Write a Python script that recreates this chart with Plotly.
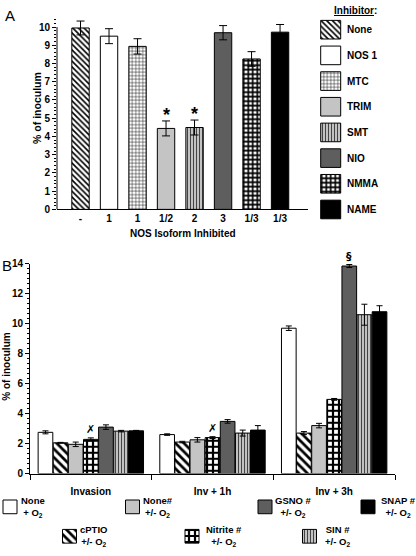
import plotly.graph_objects as go

# ---------------- Panel A data ----------------
A_inhibitors = ["None", "NOS 1", "MTC", "TRIM", "SMT", "NIO", "NMMA", "NAME"]
A_isoform = ["-", "1", "1", "1/2", "2", "3", "1/3", "1/3"]
A_values = [9.95, 9.5, 8.94, 4.44, 4.49, 9.69, 8.25, 9.72]
A_errors = [0.38, 0.41, 0.42, 0.41, 0.41, 0.39, 0.40, 0.42]
A_sig = ["", "", "", "*", "*", "", "", ""]

# ---------------- Panel B data ----------------
B_groups = ["Invasion", "Inv + 1h", "Inv + 3h"]
B_series = ["None + O2", "cPTIO +/- O2", "None# +/- O2", "Nitrite # +/- O2",
            "GSNO # +/- O2", "SIN # +/- O2", "SNAP # +/- O2"]
B_none_o2 = [2.75, 2.6, 9.7]
B_cptio = [2.05, 2.1, 2.7]
B_none_h = [1.95, 2.25, 3.2]
B_nitrite = [2.28, 2.4, 4.95]
B_gsno = [3.1, 3.48, 13.85]
B_sin = [2.83, 2.7, 10.6]
B_snap = [2.85, 2.9, 10.8]
B_none_o2_err = [0.1, 0.05, 0.15]
B_cptio_err = [0.03, 0.05, 0.1]
B_none_h_err = [0.15, 0.15, 0.15]
B_nitrite_err = [0.1, 0.06, 0.06]
B_gsno_err = [0.15, 0.12, 0.1]
B_sin_err = [0.05, 0.2, 0.7]
B_snap_err = [0.03, 0.3, 0.4]
B_marks_nitrite = ["\u2717", "\u2717", ""]
B_marks_gsno = ["", "", "\u00a7"]

B_values = [B_none_o2, B_cptio, B_none_h, B_nitrite, B_gsno, B_sin, B_snap]
B_errors = [B_none_o2_err, B_cptio_err, B_none_h_err, B_nitrite_err, B_gsno_err, B_sin_err, B_snap_err]
B_marks = [None, None, None, B_marks_nitrite, B_marks_gsno, None, None]
B_legend_text = ["None<br>+ O<sub>2</sub>", "cPTIO<br>+/- O<sub>2</sub>", "None#<br>+/- O<sub>2</sub>",
                 "Nitrite #<br>+/- O<sub>2</sub>", "GSNO #<br>+/- O<sub>2</sub>",
                 "SIN #<br>+/- O<sub>2</sub>", "SNAP #<br>+/- O<sub>2</sub>"]

# ---------------- styles ----------------
FONT = "Liberation Sans, Arial, sans-serif"
STY = {
    "hatchA":  dict(color="white", shape="\\", fg="black", bg="white", size=4, sol=0.4),
    "hatchB":  dict(color="white", shape="\\", fg="black", bg="white", size=6, sol=0.45),
    "white":   dict(color="white", shape="", fg="black", bg="white", size=4, sol=0.3),
    "grid":    dict(color="white", shape="+", fg="black", bg="white", size=3.5, sol=0.25),
    "light":   dict(color="#c4c4c4", shape="", fg="black", bg="#c4c4c4", size=4, sol=0.3),
    "vstripe": dict(color="#d0d0d0", shape="|", fg="#444444", bg="#dddddd", size=3, sol=0.45),
    "dark":    dict(color="#5e5e5e", shape="", fg="black", bg="#5e5e5e", size=4, sol=0.3),
    "checkA":  dict(color="white", shape="+", fg="black", bg="white", size=4.5, sol=0.6),
    "checkB":  dict(color="white", shape="+", fg="black", bg="white", size=6, sol=0.6),
    "black":   dict(color="black", shape="", fg="black", bg="black", size=4, sol=0.3),
}
A_style = ["hatchA", "white", "grid", "light", "vstripe", "dark", "checkA", "black"]
B_style = ["white", "hatchB", "light", "checkB", "dark", "vstripe", "black"]


def marker_one(key):
    d = STY[key]
    m = dict(color=d["color"], line=dict(color="black", width=1))
    if d["shape"]:
        m["pattern"] = dict(shape=d["shape"], fgcolor=d["fg"], bgcolor=d["bg"],
                            size=d["size"], solidity=d["sol"], fillmode="replace")
    return m


W, H = 416, 556
fig = go.Figure()

# ---------------- Panel A ----------------
A_x = list(range(len(A_values)))
for i, nm in enumerate(A_inhibitors):
    fig.add_trace(go.Bar(
        x=[A_x[i]], y=[A_values[i]], name=nm, width=0.61, xaxis="x", yaxis="y",
        offsetgroup="a", showlegend=False, marker=marker_one(A_style[i]),
        error_y=dict(type="data", array=[A_errors[i]], visible=True, color="black",
                     thickness=1, width=4),
    ))

# ---------------- Panel B ----------------
for k, name in enumerate(B_series):
    fig.add_trace(go.Bar(
        x=B_groups, y=B_values[k], name=name, xaxis="x2", yaxis="y2", showlegend=False,
        marker=marker_one(B_style[k]),
        error_y=dict(type="data", array=B_errors[k], visible=True, color="black",
                     thickness=1, width=3),
    ))

# ---------------- legend swatches (pixel-coordinate overlay axes) ----------------
legA_x = 330.7
legA_top0, legA_step, legA_h, legA_w = 15.7, 26.2, 19, 20
legA_tops = [legA_top0 + legA_step * i for i in range(len(A_inhibitors))]
for i, nm in enumerate(A_inhibitors):
    fig.add_trace(go.Bar(
        x=[legA_x], base=[legA_tops[i]], y=[legA_h], width=legA_w, name=nm,
        xaxis="x3", yaxis="y3", offsetgroup="leg", showlegend=False,
        marker=marker_one(A_style[i]), hoverinfo="skip",
    ))

legB_x = [10, 69.5, 132.5, 192, 265, 309.5, 368]
legB_top = [505, 535, 505, 535, 505, 535, 505]
legB_txt_x = [33, 93, 158, 224, 293, 337, 398]
legB_sz = 14
for k, name in enumerate(B_series):
    fig.add_trace(go.Bar(
        x=[legB_x[k]], base=[legB_top[k]], y=[legB_sz], width=legB_sz, name=name,
        xaxis="x3", yaxis="y3", offsetgroup="leg", showlegend=False,
        marker=marker_one(B_style[k]), hoverinfo="skip",
    ))

# ---------------- annotations ----------------
ann = []
bold = dict(family=FONT, size=10, color="black", weight="bold")

ann.append(dict(text="A", x=3, y=0, xref="x3", yref="y3", xanchor="left", yanchor="top",
                showarrow=False, font=dict(family=FONT, size=15, color="black")))
ann.append(dict(text="B", x=0, y=255, xref="x3", yref="y3", xanchor="left", yanchor="top",
                showarrow=False, font=dict(family=FONT, size=15, color="black")))

ann.append(dict(text="% of inoculum", x=37, y=105, xref="x3", yref="y3", textangle=-90,
                showarrow=False, font=dict(family=FONT, size=10.5, color="black", weight="bold")))
ann.append(dict(text="% of inoculum", x=7, y=369, xref="x3", yref="y3", textangle=-90,
                showarrow=False, font=bold))
ann.append(dict(text="NOS Isoform Inhibited", x=0.5, y=233, xref="x domain", yref="y3",
                showarrow=False, font=bold))

for i, s in enumerate(A_sig):
    if s:
        ann.append(dict(text=s, x=A_x[i], y=A_values[i] + A_errors[i], xref="x", yref="y",
                        yanchor="bottom", yshift=-6, showarrow=False,
                        font=dict(family=FONT, size=18, color="black", weight="bold")))

nser = len(B_series)
slot = ((395 - 30) / len(B_groups)) * (1 - 0.13) / nser
for k, marks in enumerate(B_marks):
    if marks is None:
        continue
    for g, m in enumerate(marks):
        if m:
            ann.append(dict(text=m, x=B_groups[g], y=B_values[k][g] + B_errors[k][g],
                            xref="x2", yref="y2", xshift=(k - (nser - 1) / 2) * slot,
                            yanchor="bottom", yshift=0, showarrow=False,
                            font=dict(family="DejaVu Sans, Liberation Sans", size=11, color="black",
                                      weight="bold")))

ann.append(dict(text="<u>Inhibitor</u>:", x=355, y=6, xref="x3", yref="y3", showarrow=False,
                font=bold))
for i, nm in enumerate(A_inhibitors):
    ann.append(dict(text=nm, x=345, y=legA_tops[i] + legA_h / 2, xref="x3", yref="y3",
                    xanchor="left", showarrow=False, font=bold))
for k, t in enumerate(B_legend_text):
    ann.append(dict(text=t, x=legB_txt_x[k], y=legB_top[k] + 7, xref="x3", yref="y3",
                    showarrow=False, font=dict(family=FONT, size=9.5, color="black", weight="bold")))

axis_font = dict(family=FONT, size=10, color="black", weight="bold")

fig.update_layout(
    width=W, height=H, margin=dict(l=0, r=0, t=0, b=0),
    paper_bgcolor="white", plot_bgcolor="rgba(0,0,0,0)",
    barmode="group", bargap=0.13, bargroupgap=0.03,
    annotations=ann,
    shapes=[dict(type="line", xref="x domain", yref="y", x0=0, x1=0, y0=0, y1=10,
                 line=dict(color="black", width=1))],
    xaxis=dict(domain=[57 / W, 308 / W], range=[-0.825, 7.98], tickvals=A_x, ticktext=A_isoform,
               showline=True, linecolor="black", linewidth=1, ticks="", showgrid=False,
               zeroline=False, tickfont=axis_font, anchor="y"),
    yaxis=dict(domain=[1 - 208.5 / H, 1 - 13.2 / H], range=[0, 10.5], tickvals=list(range(0, 11)),
               showline=False, ticks="outside", ticklen=4, tickcolor="black", showgrid=False,
               zeroline=False, tickfont=axis_font, anchor="x",
               minor=dict(dtick=0.2, ticks="outside", ticklen=2, tickcolor="black", showgrid=False)),
    xaxis2=dict(domain=[30 / W, 395 / W], range=[-0.5, 2.5], showline=True, linecolor="black",
                linewidth=1, ticks="outside", tickson="boundaries", ticklen=5, tickcolor="black",
                ticklabelstandoff=8,
                showgrid=False, zeroline=False, tickfont=axis_font, anchor="y2"),
    yaxis2=dict(domain=[1 - 478 / H, 1 - 264 / H], range=[0, 14], dtick=2, showline=True,
                linecolor="black", linewidth=1, ticks="outside", ticklen=4, tickcolor="black",
                showgrid=False, zeroline=False, tickfont=axis_font, anchor="x2",
                minor=dict(dtick=1 / 3, ticks="outside", ticklen=2, tickcolor="black", showgrid=False)),
    xaxis3=dict(domain=[0, 1], range=[0, W], visible=False, anchor="y3", fixedrange=True),
    yaxis3=dict(domain=[0, 1], range=[H, 0], visible=False, anchor="x3", fixedrange=True),
)

fig.write_html("out.html", config={"displayModeBar": False},
               post_script="document.body.style.margin='0px';")
